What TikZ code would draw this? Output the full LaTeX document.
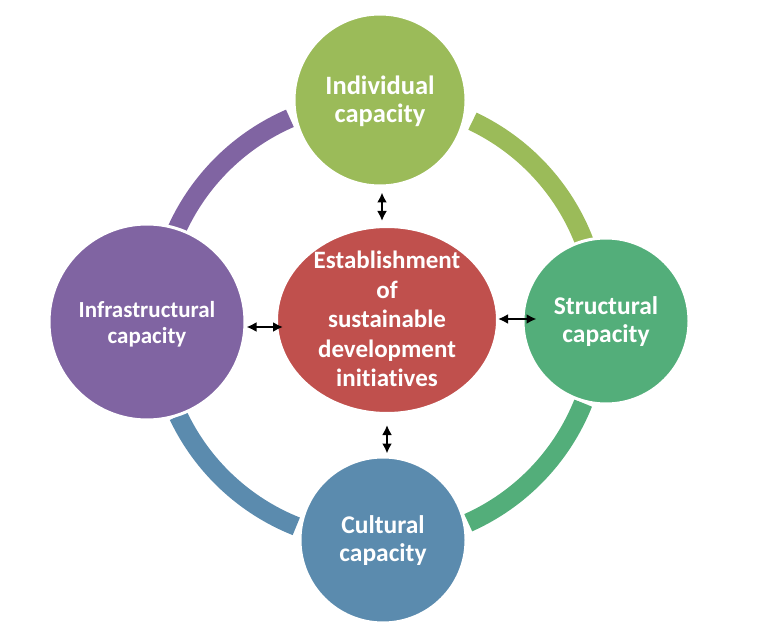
\documentclass[tikz,border=0pt]{standalone}
\usepackage{fontspec}
\setmainfont[Ligatures={NoCommon,NoContextual}]{Carlito}
\usetikzlibrary{shapes.geometric,arrows.meta}
\definecolor{cgreen}{RGB}{155,187,89}
\definecolor{cpurple}{RGB}{128,100,162}
\definecolor{cteal}{RGB}{83,174,122}
\definecolor{cblue}{RGB}{91,139,174}
\definecolor{cred}{RGB}{192,80,77}
\tikzset{
  x=1pt,y=1pt,
  blob/.style={circle,draw=white,line width=3pt,inner sep=0pt},
  txt/.style={text=white,align=center,font=\bfseries},
  ringseg/.style={line width=19pt},
  arr/.style={{Latex[length=10pt,width=10pt]}-{Latex[length=10pt,width=10pt]},line width=2.2pt,black}
}
\begin{document}
\begin{tikzpicture}
\useasboundingbox (0,0) rectangle (757,630);
\coordinate (ring) at (378,309);
% ring segments
\draw[ringseg,cpurple] (ring) ++(113.5:221) arc[start angle=113.5,end angle=155.4,radius=221];
\draw[ringseg,cgreen] (ring) ++(21:221) arc[start angle=21,end angle=64.7,radius=221];
\draw[ringseg,cteal] (ring) ++(-65.9:221) arc[start angle=-65.9,end angle=-21.8,radius=221];
\draw[ringseg,cblue] (ring) ++(205.4:221) arc[start angle=205.4,end angle=248.3,radius=221];
% nodes
\node[blob,fill=cgreen,minimum size=172pt] (T) at (380,530) {};
\node[blob,fill=cpurple,minimum size=196pt] (L) at (147,308) {};
\node[blob,fill=cteal,minimum size=166pt] (R) at (606,309) {};
\node[blob,fill=cblue,minimum size=166pt] (B) at (383,90) {};
\node[ellipse,fill=cred,draw=white,line width=2pt,inner sep=0pt,minimum width=220pt,minimum height=186pt] (C) at (387,310) {};
% texts
\node[txt,font=\fontsize{26.5}{28}\bfseries] at ([yshift=-1]T.center) {Individual\\capacity};
\node[txt,font=\fontsize{23}{26}\bfseries] at ([yshift=-2]L.center) {Infrastructural\\capacity};
\node[txt,font=\fontsize{25.5}{28}\bfseries] at ([yshift=-1]R.center) {Structural\\capacity};
\node[txt,font=\fontsize{25.5}{28}\bfseries] at ([yshift=-1]B.center) {Cultural\\capacity};
\node[txt,font=\fontsize{25}{29.5}\bfseries] at ([yshift=1]C.center) {Establishment\\of\\sustainable\\development\\initiatives};
% arrows
\draw[arr] ([xshift=2,yshift=-5]T.south) -- ([xshift=-5,yshift=5]C.north);
\draw[arr] ([yshift=-11]C.south) -- ([xshift=4,yshift=2]B.north);
\draw[arr] ([yshift=-5]L.east) -- ([xshift=7,yshift=-7]C.west);
\draw[arr] ([yshift=1]C.east) -- ([xshift=15,yshift=2]R.west);
\end{tikzpicture}
\end{document}
